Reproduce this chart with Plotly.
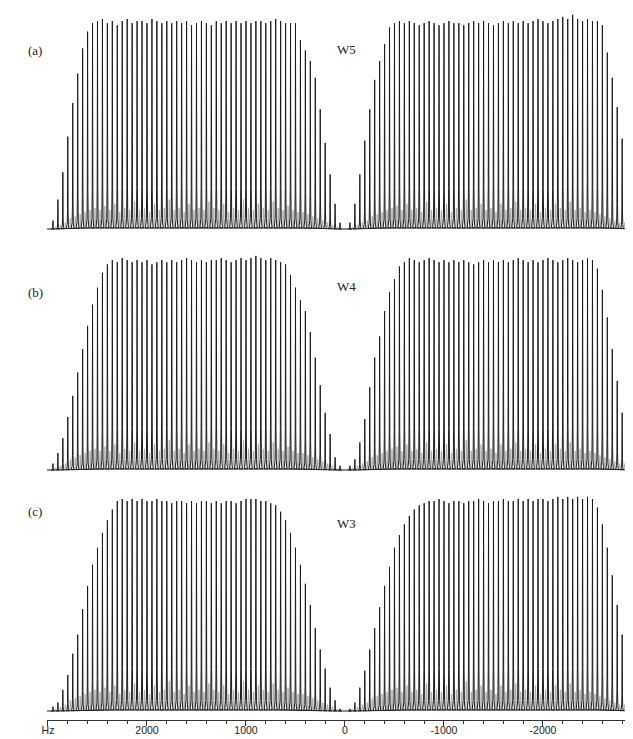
import plotly.graph_objects as go

# ---------------- data ----------------
# main sideband positions (Hz)
left_hz = list(range(2950, 0, -50))      # 2950 ... 50  (59 peaks)
right_hz = list(range(-50, -3000, -50))  # -50 ... -2950 (59 peaks)
# weaker intermediate lines (Hz)
left_minor_hz = list(range(2925, 50, -50))     # 2925 ... 75  (58 lines)
right_minor_hz = list(range(-75, -2950, -50))  # -75 ... -2925 (58 lines)

# relative peak heights; left group listed 2950 -> 50 Hz, right group -50 -> -2950 Hz
a_left = [0.04, 0.14, 0.27, 0.44, 0.60, 0.74, 0.86, 0.94, 0.98, 0.99,
          1.00, 0.98, 0.99, 0.97, 0.99, 1.00, 0.98, 0.99, 0.99, 0.98,
          1.00, 0.99, 0.98, 0.99, 0.98, 0.99, 0.98, 0.99, 0.97, 0.98,
          0.99, 0.98, 0.97, 0.99, 0.98, 0.99, 0.98, 0.99, 0.98, 0.99,
          0.98, 0.99, 0.99, 0.98, 0.99, 1.00, 0.99, 0.98, 0.98, 0.98,
          0.90, 0.85, 0.80, 0.72, 0.57, 0.41, 0.26, 0.12, 0.03]
a_right = [0.03, 0.12, 0.26, 0.42, 0.57, 0.71, 0.80, 0.88, 0.96, 0.98,
           0.99, 0.98, 0.99, 0.98, 0.97, 0.98, 0.99, 0.98, 0.97, 0.98,
           0.99, 0.98, 0.98, 0.97, 0.98, 0.99, 0.98, 0.99, 0.98, 0.97,
           0.98, 0.99, 0.98, 0.99, 0.98, 0.99, 0.98, 0.99, 1.00, 0.99,
           0.98, 0.99, 1.00, 1.01, 1.00, 1.02, 1.00, 0.99, 1.00, 0.99,
           0.99, 0.97, 0.84, 0.72, 0.58, 0.43, 0.25, 0.10, 0.05]
b_left = [0.03, 0.08, 0.15, 0.25, 0.35, 0.46, 0.57, 0.68, 0.78, 0.86,
          0.93, 0.97, 0.99, 0.98, 1.00, 0.99, 0.98, 0.99, 0.98, 0.99,
          0.97, 0.98, 0.99, 0.98, 0.99, 0.98, 0.99, 1.00, 0.99, 0.98,
          0.99, 0.98, 0.99, 0.99, 1.00, 0.99, 0.98, 0.99, 1.00, 0.99,
          1.00, 1.01, 1.00, 0.99, 1.00, 0.99, 0.98, 0.97, 0.92, 0.86,
          0.80, 0.75, 0.65, 0.53, 0.40, 0.27, 0.17, 0.06, 0.02]
b_right = [0.02, 0.05, 0.13, 0.24, 0.39, 0.53, 0.63, 0.75, 0.84, 0.90,
           0.96, 0.98, 1.00, 0.99, 0.98, 0.99, 1.00, 0.99, 0.98, 0.99,
           0.98, 0.99, 0.98, 0.99, 0.98, 0.97, 0.98, 0.99, 0.98, 0.99,
           0.98, 0.99, 0.98, 0.99, 1.00, 0.99, 0.98, 0.99, 0.98, 0.99,
           1.00, 0.99, 0.98, 0.99, 1.00, 0.99, 0.98, 0.99, 1.00, 0.99,
           0.95, 0.85, 0.72, 0.57, 0.42, 0.27, 0.13, 0.05, 0.02]
c_left = [0.02, 0.04, 0.10, 0.17, 0.27, 0.36, 0.48, 0.59, 0.69, 0.77,
          0.84, 0.90, 0.95, 0.99, 1.00, 0.99, 1.00, 0.99, 1.00, 0.99,
          0.99, 1.00, 0.99, 0.99, 0.98, 0.99, 0.99, 0.98, 0.99, 0.98,
          0.99, 0.99, 0.98, 0.99, 0.98, 0.99, 0.99, 0.98, 0.99, 1.00,
          1.00, 1.00, 0.99, 0.99, 0.98, 0.97, 0.94, 0.90, 0.84, 0.77,
          0.69, 0.60, 0.50, 0.39, 0.29, 0.20, 0.11, 0.05, 0.01]
c_right = [0.01, 0.04, 0.11, 0.19, 0.29, 0.39, 0.49, 0.59, 0.68, 0.77,
           0.83, 0.88, 0.92, 0.95, 0.97, 0.98, 0.99, 0.99, 1.00, 0.99,
           0.98, 0.99, 0.99, 0.98, 0.99, 0.99, 1.00, 0.99, 0.98, 0.99,
           0.99, 1.00, 0.99, 0.99, 1.00, 0.99, 1.00, 0.99, 1.00, 1.00,
           0.99, 1.00, 1.01, 1.00, 1.01, 1.00, 1.01, 1.00, 1.01, 1.00,
           0.96, 0.88, 0.77, 0.64, 0.50, 0.36, 0.22, 0.10, 0.04]

# weaker intermediate lines (same for the three spectra)
minor_left = [0.01, 0.02, 0.03, 0.05, 0.06, 0.07, 0.08, 0.09, 0.10, 0.09,
              0.11, 0.09, 0.12, 0.08, 0.10, 0.09, 0.13, 0.09, 0.10, 0.08,
              0.12, 0.09, 0.10, 0.14, 0.09, 0.10, 0.08, 0.12, 0.09, 0.10,
              0.09, 0.13, 0.10, 0.09, 0.12, 0.08, 0.10, 0.09, 0.14, 0.10,
              0.09, 0.12, 0.10, 0.09, 0.13, 0.10, 0.09, 0.11, 0.09, 0.08,
              0.08, 0.07, 0.06, 0.05, 0.04, 0.03, 0.02, 0.01]
minor_right = [0.01, 0.02, 0.03, 0.04, 0.06, 0.07, 0.08, 0.09, 0.10, 0.11,
               0.09, 0.12, 0.09, 0.10, 0.08, 0.13, 0.09, 0.10, 0.09, 0.12,
               0.08, 0.10, 0.09, 0.14, 0.09, 0.10, 0.12, 0.09, 0.10, 0.08,
               0.12, 0.09, 0.10, 0.13, 0.09, 0.10, 0.09, 0.12, 0.08, 0.10,
               0.09, 0.12, 0.10, 0.09, 0.13, 0.09, 0.10, 0.08, 0.09, 0.08,
               0.07, 0.06, 0.05, 0.04, 0.03, 0.03, 0.02, 0.01]

panel_names = ["W5", "W4", "W3"]
panel_tags = ["(a)", "(b)", "(c)"]
tick_vals = [3000, 2000, 1000, 0, -1000, -2000]
tick_text = ["Hz", "2000", "1000", "0", "-1000", "-2000"]

# ---------------- layout constants ----------------
W, H = 633, 739
ML, MR, MT, MB = 39, 1, 0, 27
PH = H - MT - MB
PW = W - ML - MR
X_RANGE = [3010, -2980]

# line shape profile (style): offsets in Hz and relative amplitude
PROF_D = [-15, -10, -6, -3, -1, 0, 1, 3, 6, 10, 15]
PROF_F = [0.006, 0.018, 0.05, 0.2, 0.8, 1.0, 0.8, 0.2, 0.05, 0.018, 0.006]
VALLEY_F = 0.002
MINOR_D = [-7, -4, -1, 0, 1, 4, 7]
MINOR_F = [0.05, 0.25, 0.8, 1.0, 0.8, 0.25, 0.05]


def spectrum_xy(positions, heights):
    n = min(len(positions), len(heights))
    xs, ys = [X_RANGE[0]], [0.0]
    for i in range(n):
        p, h = positions[i], heights[i]
        for d, f in zip(PROF_D, PROF_F):
            xs.append(p + d)
            ys.append(h * f)
        if i + 1 < n:
            p2, h2 = positions[i + 1], heights[i + 1]
            if abs(p2 - p) <= 60:
                xs.append((p + p2) / 2)
                ys.append(VALLEY_F * (h + h2))
            else:
                xs.append(p - 25)
                ys.append(0.0)
                xs.append(p2 + 25)
                ys.append(0.0)
    xs.append(X_RANGE[1])
    ys.append(0.0)
    return xs, ys


def minor_xy(positions, heights):
    xs, ys = [], []
    for p, h in zip(positions, heights):
        for d, f in zip(MINOR_D, MINOR_F):
            xs.append(p + d)
            ys.append(h * f)
        xs.append(None)
        ys.append(None)
    return xs, ys


panels = [(a_left, a_right), (b_left, b_right), (c_left, c_right)]
# pixel geometry of each panel: (baseline_y, full_height_top_y)
geom = [(221, 11), (462, 250), (703, 491)]
Y_LO, Y_HI = -0.01, 1.06

fig = go.Figure()
layout_axes = {}
for k, ((lh, rh), (base, top)) in enumerate(zip(panels, geom)):
    yname = "y" if k == 2 else ("y2" if k == 1 else "y3")
    mx, my = minor_xy(left_minor_hz + right_minor_hz, minor_left + minor_right)
    fig.add_trace(go.Scatter(x=mx, y=my, mode="lines", xaxis="x", yaxis=yname,
                             line=dict(color="#a8a8a8", width=0.9), hoverinfo="skip",
                             showlegend=False))
    xs, ys = spectrum_xy(left_hz + right_hz, lh + rh)
    fig.add_trace(go.Scatter(x=xs, y=ys, mode="lines", xaxis="x", yaxis=yname,
                             line=dict(color="#1c1c1c", width=1), hoverinfo="skip",
                             showlegend=False))
    hpx = base - top
    y_bot_px = base - Y_LO * hpx
    y_top_px = max(MT, base - Y_HI * hpx)
    r_hi = (base - y_top_px) / hpx
    dom = [max(0.0, (H - MB - y_bot_px) / PH), min(1.0, (H - MB - y_top_px) / PH)]
    key = "yaxis" if k == 2 else ("yaxis2" if k == 1 else "yaxis3")
    layout_axes[key] = dict(domain=dom, range=[Y_LO, r_hi], visible=False, fixedrange=True)

fig.update_layout(**layout_axes)


def px_to_paper(x, y):
    return (x - ML) / PW, (H - MB - y) / PH


ann = []
tag_pos = [(18, 33), (18, 284), (18, 513)]
name_pos = [(338, 32), (338, 278), (338, 525)]
for t, (x, y) in zip(panel_tags, tag_pos):
    px, py = px_to_paper(x, y)
    ann.append(dict(x=px, y=py, xref="paper", yref="paper", text=t, showarrow=False,
                    font=dict(family="Liberation Serif", size=13, color="#222")))
for t, (x, y) in zip(panel_names, name_pos):
    px, py = px_to_paper(x, y)
    ann.append(dict(x=px, y=py, xref="paper", yref="paper", text=t, showarrow=False,
                    font=dict(family="Liberation Serif", size=13, color="#222")))

fig.update_layout(
    width=W, height=H,
    margin=dict(l=ML, r=MR, t=MT, b=MB, pad=0),
    paper_bgcolor="white", plot_bgcolor="white",
    annotations=ann,
    xaxis=dict(range=X_RANGE, anchor="free", position=0, showgrid=False, zeroline=False,
               showline=True, linecolor="#333", linewidth=1,
               tickmode="array", tickvals=tick_vals, ticktext=tick_text,
               ticks="outside", ticklen=5, tickwidth=1, tickcolor="#333",
               ticklabelstandoff=-5,
               tickfont=dict(family="Liberation Sans", size=10.5, color="#222"),
               minor=dict(dtick=200, tick0=0, ticks="outside", ticklen=3,
                          tickcolor="#333", tickwidth=1, showgrid=False),
               fixedrange=True),
    showlegend=False,
)

fig.write_html("out.html")
